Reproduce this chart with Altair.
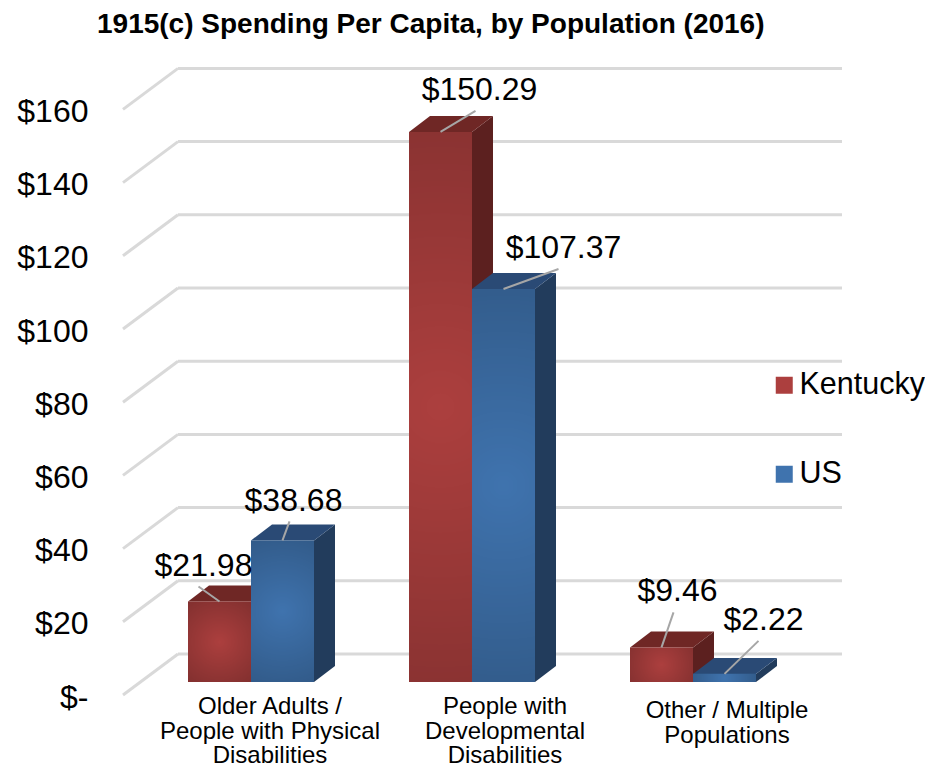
import altair as alt
import pandas as pd

categories = ["Older Adults /\nPeople with Physical\nDisabilities",
              "People with\nDevelopmental\nDisabilities",
              "Other / Multiple\nPopulations"]
kentucky = [21.98, 150.29, 9.46]
us = [38.68, 107.37, 2.22]
ticks = [0, 20, 40, 60, 80, 100, 120, 140, 160]
title = "1915(c) Spending Per Capita, by Population (2016)"
FONT = "Liberation Sans"

# pixel layout of the plot frame (page coordinates)
PL, PR, PT, PB = 100, 925, 48, 768
Y0, PXU = 695, 3.66          # front-plane zero line, pixels per dollar
CAT0, CATW = 251, 221        # first category centre and spacing
BW = 63 / CATW               # bar width in category units
DX, DY = 21 / CATW, 16 / PXU # bar depth
BASE = 13 / PXU              # bars stand back from the front edge
WX, WY = 55 / CATW, 41 / PXU # wall depth
ENDX = (842 - CAT0) / CATW   # right end of back wall
STARTX = (123 - CAT0) / CATW

xdom = [(PL - CAT0) / CATW, (PR - CAT0) / CATW]
ydom = [(Y0 - PB) / PXU, (Y0 - PT) / PXU]
y_axis = alt.Axis(values=ticks, grid=False, domain=False, ticks=False, title=None, labelPadding=12,
                  labelFont=FONT, labelFontSize=32, labelColor="#000000", labelOverlap=False, labelOffset=2,
                  labelExpr="datum.value === 0 ? '$-\u00a0' : '$' + datum.value")
X = alt.X("x:Q", scale=alt.Scale(domain=xdom, nice=False, zero=False), axis=None)
Y = alt.Y("y:Q", scale=alt.Scale(domain=ydom, nice=False, zero=False), axis=y_axis, stack=False)

# leader line end (dx, dy px from the bar's top) and label centre offset from the same anchor
leaders = {"Kentucky": [(-21, -15), (35, -21), (12, -35)], "US": [(7, -19), (55, -20), (34, -33)]}
labels = {"Kentucky": [(-16, -36), (39, -42), (16, -56)], "US": [(11, -39), (60, -41), (39, -54)]}
series = {"Kentucky": (kentucky, -1, "#6f2725", "#5c201f"), "US": (us, 0, "#2a4a75", "#223c5c")}
xlabel_dx = [19, 33, 34]
xlabel_top = [695, 695, 699]

# walls
diag, back = [], []
for t in ticks:
    diag += [{"t": t, "x": STARTX, "y": t}, {"t": t, "x": STARTX + WX, "y": t + WY}]
    back.append({"x": STARTX + WX, "x2": ENDX, "y": t + WY})

layers = [
    alt.Chart(pd.DataFrame(diag)).mark_line(color="#d9d9d9", strokeWidth=3).encode(x=X, y=Y, detail="t:N"),
    alt.Chart(pd.DataFrame(back)).mark_rule(color="#d9d9d9", strokeWidth=3).encode(x=X, x2="x2:Q", y=Y),
]

color = alt.Color("series:N", scale=alt.Scale(domain=["Kentucky", "US"], range=["#ac3f3e", "#3f73ae"]),
                  legend=alt.Legend(title=None, orient="none", legendX=669, legendY=322, padding=0,
                                    symbolType="square", symbolSize=289, symbolStrokeWidth=0,
                                    labelFont=FONT, labelFontSize=30.5, labelColor="#000000",
                                    labelOffset=0, rowPadding=58))
shade = {"gradient": "radial", "x1": 0.5, "y1": 0.5, "r1": 0, "x2": 0.5, "y2": 0.5, "r2": 0.62,
         "stops": [{"offset": 0, "color": "rgba(0,0,0,0)"}, {"offset": 1, "color": "rgba(0,0,0,0.24)"}]}

lead_rows, text_rows = [], []
for name, (vals, side, c_top, c_side) in series.items():
    side_rows, top_rows, front_rows = [], [], []
    for i, v in enumerate(vals):
        x0 = i + side * BW
        x1 = x0 + BW
        top = BASE + v
        side_rows += [{"id": i, "x": x1, "y": top, "y2": BASE},
                      {"id": i, "x": x1 + DX, "y": top + DY, "y2": BASE + DY}]
        top_rows += [{"id": i, "x": x0, "y": top, "y2": top},
                     {"id": i, "x": x0 + DX, "y": top + DY, "y2": top},
                     {"id": i, "x": x1, "y": top + DY, "y2": top},
                     {"id": i, "x": x1 + DX, "y": top + DY, "y2": top + DY}]
        front_rows.append({"series": name, "x": x0, "x2": x1, "y": BASE, "y2": top})
        ax, ay = x0 + BW / 2, top
        ldx, ldy = leaders[name][i]
        lead_rows += [{"id": f"{name}{i}", "x": ax, "y": ay},
                      {"id": f"{name}{i}", "x": ax + ldx / CATW, "y": ay - ldy / PXU}]
        tdx, tdy = labels[name][i]
        text_rows.append({"x": ax + tdx / CATW, "y": ay - tdy / PXU, "label": f"${v:.2f}"})
    layers += [
        alt.Chart(pd.DataFrame(side_rows)).mark_area(color=c_side, orient="vertical", interpolate="linear").encode(
            x=X, y=Y, y2="y2:Q", detail="id:N"),
        alt.Chart(pd.DataFrame(top_rows)).mark_area(color=c_top, orient="vertical", interpolate="linear").encode(
            x=X, y=Y, y2="y2:Q", detail="id:N"),
        alt.Chart(pd.DataFrame(front_rows)).mark_bar().encode(x=X, x2="x2:Q", y=Y, y2="y2:Q", color=color),
        alt.Chart(pd.DataFrame(front_rows)).mark_bar(fill=shade).encode(x=X, x2="x2:Q", y=Y, y2="y2:Q"),
    ]

layers.append(alt.Chart(pd.DataFrame(lead_rows)).mark_line(color="#a6a6a6", strokeWidth=2).encode(
    x=X, y=Y, detail="id:N"))
layers.append(alt.Chart(pd.DataFrame(text_rows)).mark_text(
    font=FONT, fontSize=32, color="#000000", baseline="middle", align="center").encode(x=X, y=Y, text="label:N"))

cat_rows = [{"label": c, "x": i + xlabel_dx[i] / CATW, "y": (Y0 - xlabel_top[i]) / PXU}
            for i, c in enumerate(categories)]
layers.append(alt.Chart(pd.DataFrame(cat_rows)).mark_text(
    font=FONT, fontSize=24, color="#000000", baseline="top", align="center", lineBreak="\n", lineHeight=24.5
).encode(x=X, y=Y, text="label:N"))

chart = alt.layer(*layers).properties(
    width=PR - PL, height=PB - PT, background="#ffffff",
    autosize=alt.AutoSizeParams(type="none"),
    padding={"left": PL - 8, "top": PT - 8, "right": 0, "bottom": 0},
    title=alt.TitleParams(title, anchor="start", frame="group", font=FONT, fontSize=28, fontWeight="bold",
                          color="#000000", offset=9, dx=-3),
).configure_view(stroke="transparent")

chart.save("out.html", embed_options={"renderer": "svg", "actions": False})
